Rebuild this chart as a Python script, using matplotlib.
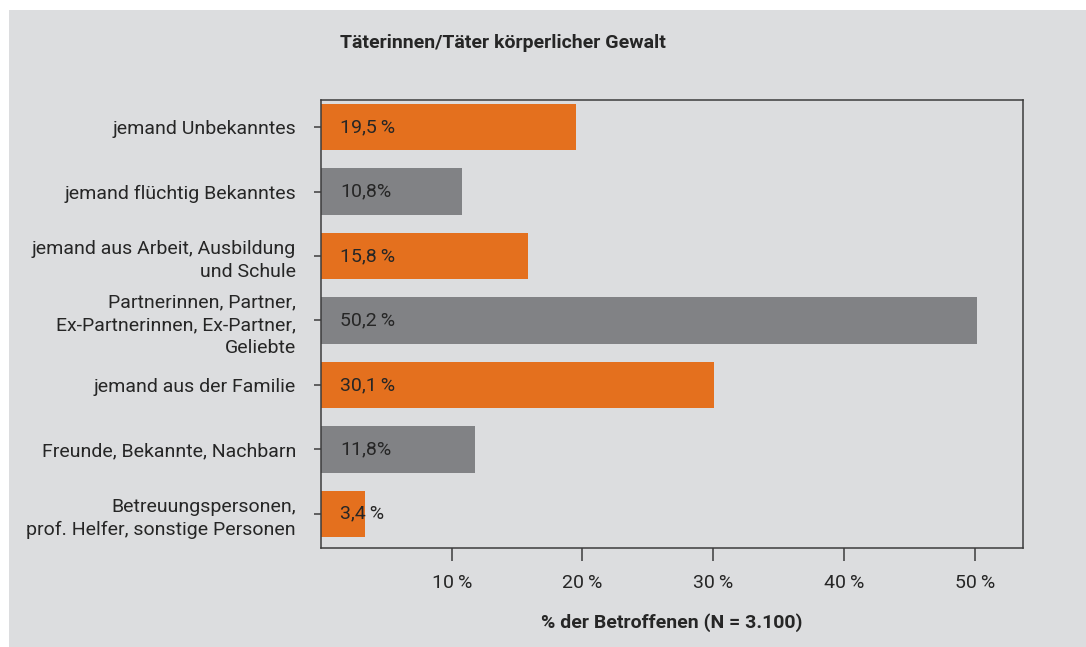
import matplotlib
matplotlib.use("Agg")
import matplotlib.pyplot as plt
from matplotlib.patches import Rectangle

categories = [
    "jemand Unbekanntes",
    "jemand flüchtig Bekanntes",
    "jemand aus Arbeit, Ausbildung\nund Schule",
    "Partnerinnen, Partner,\nEx-Partnerinnen, Ex-Partner,\nGeliebte",
    "jemand aus der Familie",
    "Freunde, Bekannte, Nachbarn",
    "Betreuungspersonen,\nprof. Helfer, sonstige Personen",
]
values = [19.5, 10.8, 15.8, 50.2, 30.1, 11.8, 3.4]
value_labels = ["19,5\u2009%", "10,8%", "15,8\u2009%", "50,2\u2009%", "30,1\u2009%", "11,8%", "3,4\u2009%"]
xticks = [10, 20, 30, 40, 50]
xtick_labels = ["10\u2009%", "20\u2009%", "30\u2009%", "40\u2009%", "50\u2009%"]

ORANGE = "#e4701e"
GRAY = "#818285"
BG = "#dcdddf"
TXT = "#262626"
FONT = "Roboto"
FS = 14

plt.rcParams["font.family"] = [FONT, "DejaVu Sans"]

fig = plt.figure(figsize=(10.86, 6.47), dpi=100, facecolor="white")
# grey panel with a white margin on top and left only
fig.patches.append(Rectangle((9 / 1086, 0), 1, 1 - 10 / 647, transform=fig.transFigure,
                             facecolor=BG, edgecolor="none", zorder=-1))

ax = fig.add_axes([321 / 1086, 1 - 548 / 647, (1023 - 321) / 1086, (548 - 100) / 647])
ax.set_facecolor(BG)

colors = [ORANGE if i % 2 == 0 else GRAY for i in range(len(values))]
pos = list(range(len(values)))
ax.barh(pos, values, height=0.72, color=colors, zorder=2)

for p, v, lab in zip(pos, values, value_labels):
    ax.annotate(lab, (0, p), xytext=(14, 0), textcoords="offset points",
                ha="left", va="center", fontsize=FS, color=TXT, zorder=3)

ax.set_xlim(0, 53.7)
ax.set_ylim(6.53, -0.42)
ax.set_yticks(pos)
ax.set_yticklabels(categories, fontsize=FS, color=TXT, linespacing=1.35)
ax.set_xticks(xticks)
ax.set_xticklabels(xtick_labels, fontsize=FS, color=TXT)
ax.tick_params(axis="x", length=9, width=1.1, color="#3c3c3c", pad=10)
ax.tick_params(axis="y", length=5, width=1.1, color="#3c3c3c", pad=13)

for s in ax.spines.values():
    s.set_color("#3c3c3c")
    s.set_linewidth(1.1)

ax.set_xlabel("% der Betroffenen (N = 3.100)", fontsize=FS, fontweight="bold",
              color=TXT, labelpad=15)

fig.text(340 / 1086, 1 - 43 / 647, "Täterinnen/Täter körperlicher Gewalt",
         fontsize=FS, fontweight="bold", color=TXT, ha="left", va="center")

fig.savefig("out.png", dpi=100, facecolor="white")
